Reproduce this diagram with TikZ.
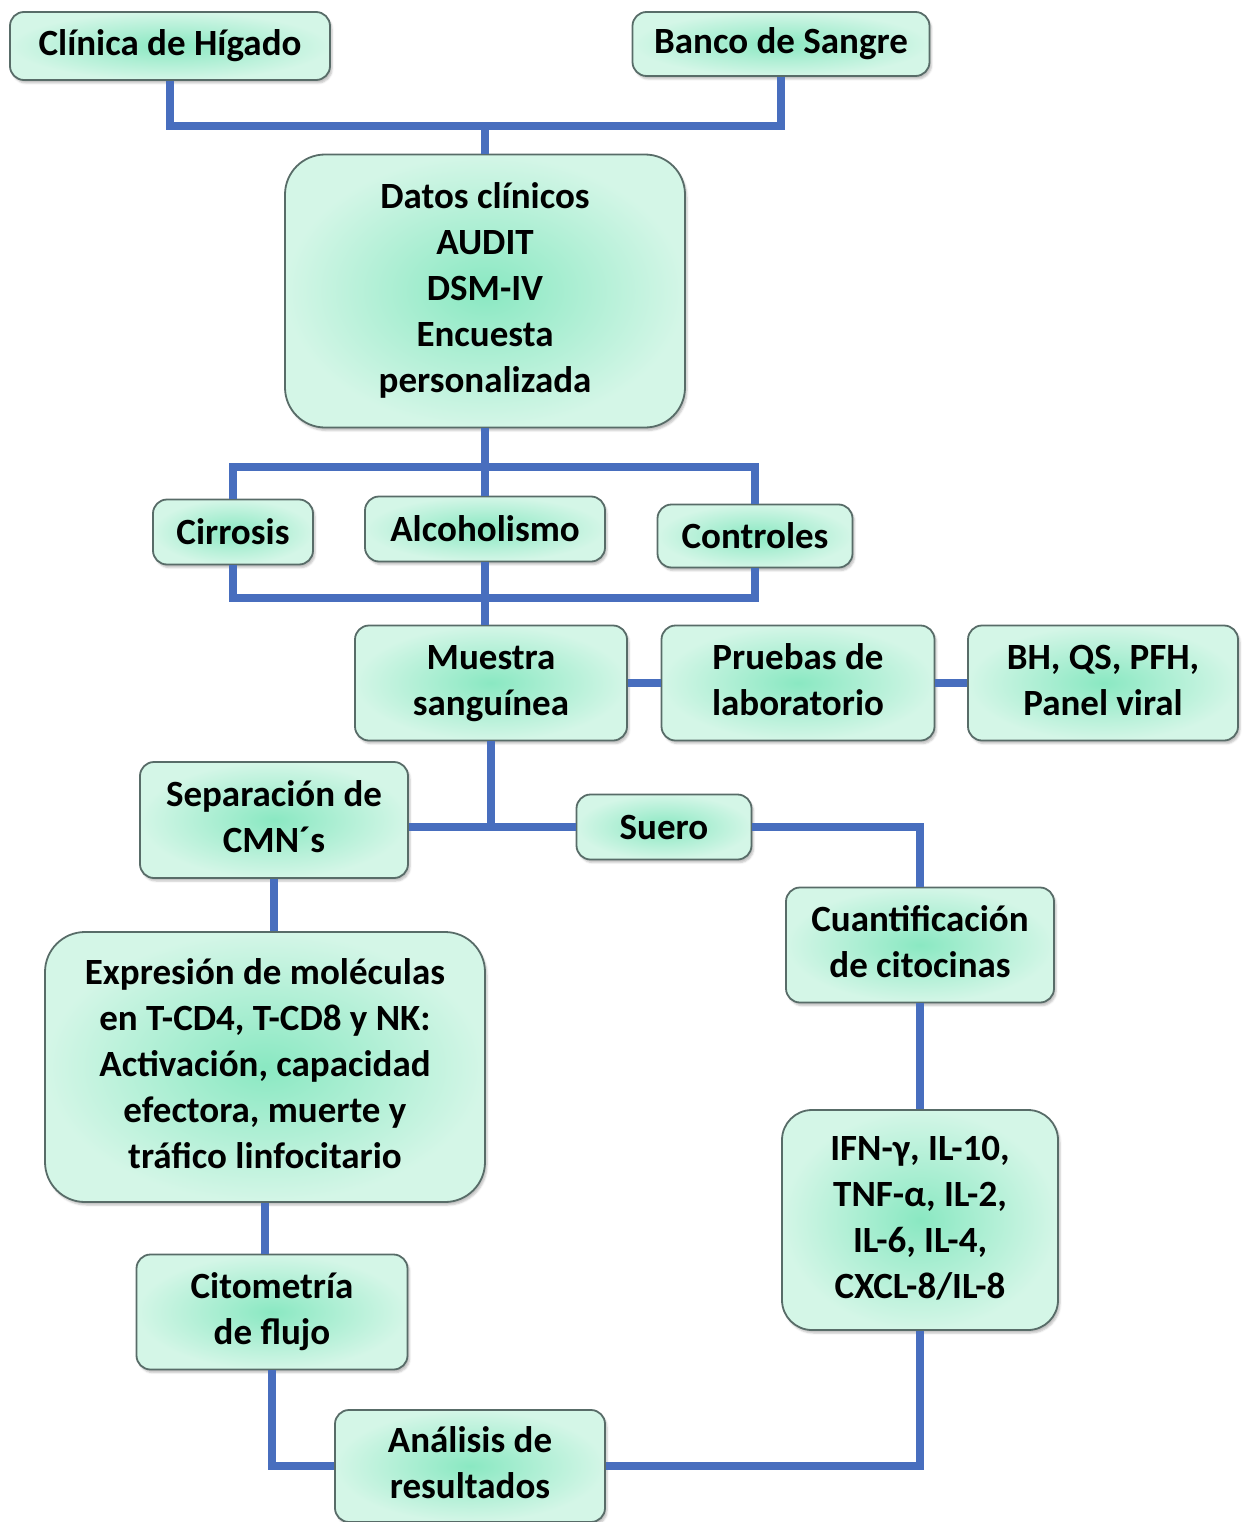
\documentclass[tikz,border=0pt]{standalone}
\usepackage{fontspec}
\setmainfont{Carlito}
\usepackage{tikz}
\usetikzlibrary{positioning,calc,shadows.blur}

\definecolor{azul}{RGB}{72,110,190}
\definecolor{menta}{RGB}{138,232,194}
\definecolor{mentaclaro}{RGB}{212,246,231}
\definecolor{borde}{RGB}{88,108,104}

\tikzset{
  caja/.style={draw=borde, line width=1.8pt, rectangle, rounded corners=14pt,
    shading=radial, inner color=menta, outer color=mentaclaro,
    blur shadow={shadow xshift=2pt, shadow yshift=-3pt, shadow opacity=25},
    font=\fontsize{37}{46}\selectfont\bfseries, inner sep=0pt},
  linea/.style={draw=azul, line width=8pt}
}

\begin{document}
\begin{tikzpicture}[x=1pt,y=-1pt]
  \useasboundingbox (0,0) rectangle (1243,1522);

  \node[caja, minimum width=320pt, minimum height=68pt] (clinica) at (170,46) {Clínica de Hígado};
  \node[caja, minimum width=297pt, minimum height=64pt] (banco) at (781,44) {Banco de Sangre};

  \node[caja, rounded corners=40pt, minimum width=400pt, minimum height=273pt] (datos) at (485,291) {
  \begin{tabular}{c}
    Datos clínicos \\
    AUDIT \\
    DSM-IV \\
    Encuesta \\
    personalizada
  \end{tabular}
  };

  \node[caja, minimum width=160pt, minimum height=65pt] (cirrosis) at (233,532) {Cirrosis};
  \node[caja, minimum width=240pt, minimum height=65pt] (alcohol) at (485,529) {Alcoholismo};
  \node[caja, minimum width=195pt, minimum height=63pt] (controles) at (755,536) {Controles};

  \node[caja, minimum width=272pt, minimum height=115pt] (muestra) at (491,683) {
  \begin{tabular}{c}
    Muestra \\
    sanguínea
  \end{tabular}
  };
  \node[caja, minimum width=273pt, minimum height=115pt] (pruebas) at (798,683) {
  \begin{tabular}{c}
    Pruebas de \\
    laboratorio
  \end{tabular}
  };
  \node[caja, minimum width=270pt, minimum height=115pt] (bh) at (1103,683) {
  \begin{tabular}{c}
    BH, QS, PFH, \\
    Panel viral
  \end{tabular}
  };

  \node[caja, minimum width=268pt, minimum height=116pt] (separacion) at (274,820) {
  \begin{tabular}{c}
    Separación de \\
    CMN´s
  \end{tabular}
  };
  \node[caja, minimum width=175pt, minimum height=65pt] (suero) at (664,827) {Suero};

  \node[caja, minimum width=268pt, minimum height=115pt] (cuantif) at (920,945) {
  \begin{tabular}{c}
    Cuantificación \\
    de citocinas
  \end{tabular}
  };

  \node[caja, rounded corners=40pt, minimum width=440pt, minimum height=270pt] (expresion) at (265,1067) {
  \begin{tabular}{c}
    Expresión de moléculas \\
    en T-CD4, T-CD8 y NK: \\
    Activación, capacidad \\
    efectora, muerte y \\
    tráfico linfocitario
  \end{tabular}
  };

  \node[caja, rounded corners=30pt, minimum width=276pt, minimum height=220pt] (citocinas) at (920,1220) {
  \begin{tabular}{c}
    IFN-γ, IL-10, \\
    TNF-α, IL-2, \\
    IL-6, IL-4, \\
    CXCL-8/IL-8
  \end{tabular}
  };

  \node[caja, minimum width=271pt, minimum height=115pt] (citometria) at (272,1312) {
  \begin{tabular}{c}
    Citometría \\
    de flujo
  \end{tabular}
  };

  \node[caja, minimum width=270pt, minimum height=112pt] (analisis) at (470,1466) {
  \begin{tabular}{c}
    Análisis de \\
    resultados
  \end{tabular}
  };

  % conectores
  \draw[linea] (clinica.south) -- ++(0,45) -| (banco.south);
  \draw[linea] (datos.north) -- ++(0,-30);
  \draw[linea] (datos.south) -- (alcohol.north);
  \draw[linea] (cirrosis.north) -- ++(0,-32) -| (controles.north);
  \draw[linea] (cirrosis.south) -- ++(0,33) -| (controles.south);
  \draw[linea] (alcohol.south) -- (alcohol.south |- muestra.north);
  \draw[linea] (muestra.east) -- (pruebas.west);
  \draw[linea] (pruebas.east) -- (bh.west);
  \draw[linea] (muestra.south) -- (muestra.south |- suero.west);
  \draw[linea] (separacion.east |- suero.west) -- (suero.west);
  \draw[linea] (suero.east) -| (cuantif.north);
  \draw[linea] (separacion.south) -- (separacion.south |- expresion.north);
  \draw[linea] (expresion.south) -- (expresion.south |- citometria.north);
  \draw[linea] (cuantif.south) -- (citocinas.north);
  \draw[linea] (citometria.south) |- (analisis.west);
  \draw[linea] (analisis.east) -| (citocinas.south);

\end{tikzpicture}
\end{document}
